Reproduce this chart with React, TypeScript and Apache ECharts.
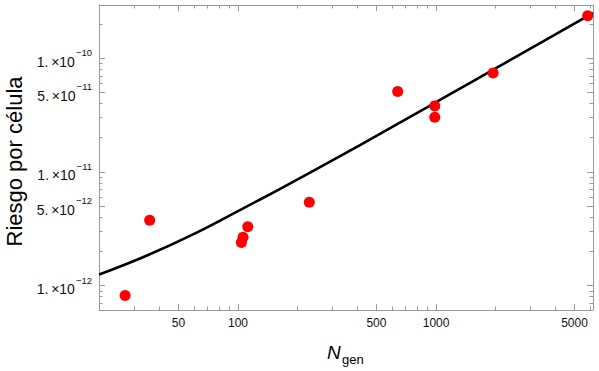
import React, { useEffect, useRef } from "react";
import * as echarts from "echarts";

// Data points (N_gen, risk per cell)
const pointN = [26.9, 35.8, 104, 106, 112, 229, 640, 985, 985, 1941, 5830];
const pointRisk = [8.2e-13, 3.76e-12, 2.39e-12, 2.66e-12, 3.3e-12, 5.4e-12, 5.1e-11, 3.81e-11, 3.03e-11, 7.43e-11, 2.37e-10];

// Fitted curve
const curveN = [19.9, 35.2, 60.7, 108.5, 153.8, 231, 413, 684, 1183, 1925, 3350, 5875, 6200];
const curveRisk = [1.25e-12, 1.86e-12, 2.88e-12, 4.88e-12, 6.72e-12, 9.85e-12, 1.72e-11, 2.82e-11, 4.85e-11, 7.85e-11, 1.36e-10, 2.37e-10, 2.5e-10];

// Axis ranges
const xRange = [19.86, 6200];
const yRange = [6.1e-13, 2.94e-10];

// Ticks
const xMajor = [50, 100, 500, 1000, 5000];
const xMajorLabels = ["50", "100", "500", "1000", "5000"];
const xMinor = [20, 30, 40, 60, 70, 80, 90, 200, 300, 400, 600, 700, 800, 900, 2000, 3000, 4000, 6000];
const yMajor = [1e-12, 5e-12, 1e-11, 5e-11, 1e-10];
const yMajorMantissa = ["1.", "5.", "1.", "5.", "1."];
const yMajorExponent = ["−12", "−12", "−11", "−11", "−10"];
const yMinor = [7e-13, 8e-13, 9e-13, 2e-12, 3e-12, 4e-12, 6e-12, 7e-12, 8e-12, 9e-12, 2e-11, 3e-11, 4e-11, 6e-11, 7e-11, 8e-11, 9e-11, 2e-10];

const L = (v: number) => Math.log10(v);
const FONT = "Liberation Sans, Arial, sans-serif";
const FRAME = "#9a9a9a";

function nearestIndex(arr: number[], v: number) {
  let best = 0;
  let d = Infinity;
  arr.forEach((a, i) => {
    const dd = Math.abs(L(a) - v);
    if (dd < d) { d = dd; best = i; }
  });
  return best;
}

export default function App() {
  const ref = useRef<HTMLDivElement>(null);
  useEffect(() => {
    if (!ref.current) return;
    const chart = echarts.init(ref.current, null, { renderer: "svg" });
    const xMin = L(xRange[0]);
    const xMax = L(xRange[1]);
    const yMin = L(yRange[0]);
    const yMax = L(yRange[1]);

    const mkX = (pos: string, ticks: number[], len: number, showLine: boolean, labels: boolean) => ({
      type: "value",
      position: pos,
      min: xMin,
      max: xMax,
      axisLine: { show: showLine, onZero: false, lineStyle: { color: FRAME, width: 1 } },
      axisTick: { show: true, inside: true, length: len, customValues: ticks.map(L), lineStyle: { color: FRAME, width: 1 } },
      axisLabel: labels
        ? {
            show: true,
            customValues: xMajor.map(L),
            margin: 7,
            color: "#111",
            fontFamily: FONT,
            fontSize: 12,
            formatter: (v: number) => xMajorLabels[nearestIndex(xMajor, v)],
          }
        : { show: false },
      splitLine: { show: false },
    });

    const mkY = (pos: string, ticks: number[], len: number, showLine: boolean, labels: boolean) => ({
      type: "value",
      position: pos,
      min: yMin,
      max: yMax,
      axisLine: { show: showLine, onZero: false, lineStyle: { color: FRAME, width: 1 } },
      axisTick: { show: true, inside: true, length: len, customValues: ticks.map(L), lineStyle: { color: FRAME, width: 1 } },
      axisLabel: labels
        ? {
            show: true,
            customValues: yMajor.map(L),
            margin: 7,
            formatter: (v: number) => {
              const i = nearestIndex(yMajor, v);
              return `{b|${yMajorMantissa[i]}\u2009×10}{s|${yMajorExponent[i]}}`;
            },
            rich: {
              b: { fontFamily: FONT, fontSize: 14, color: "#111", lineHeight: 21, verticalAlign: "bottom" },
              s: { fontFamily: FONT, fontSize: 9.5, color: "#111", lineHeight: 10, verticalAlign: "top", padding: [0, 0, 0, 1] },
            },
          }
        : { show: false },
      splitLine: { show: false },
    });

    chart.setOption({
      animation: false,
      grid: { left: 99, right: 6, top: 5, bottom: 61, containLabel: false },
      xAxis: [
        mkX("bottom", xMajor, 6, true, true),
        mkX("bottom", xMinor, 3.5, false, false),
        mkX("top", xMajor, 6, true, false),
        mkX("top", xMinor, 3.5, false, false),
      ],
      yAxis: [
        mkY("left", yMajor, 6, true, true),
        mkY("left", yMinor, 3.5, false, false),
        mkY("right", yMajor, 6, true, false),
        mkY("right", yMinor, 3.5, false, false),
      ],
      series: [
        {
          type: "line",
          xAxisIndex: 0,
          yAxisIndex: 0,
          data: curveN.map((n, i) => [L(n), L(curveRisk[i])]),
          smooth: 0.4,
          showSymbol: false,
          symbol: "none",
          lineStyle: { color: "#000", width: 2.6 },
          clip: true,
          z: 2,
        },
        {
          type: "scatter",
          xAxisIndex: 0,
          yAxisIndex: 0,
          data: pointN.map((n, i) => [L(n), L(pointRisk[i])]),
          symbol: "circle",
          symbolSize: 11,
          itemStyle: { color: "#ff0000", opacity: 1 },
          z: 3,
        },
      ],
      graphic: [
        {
          type: "text",
          x: 14,
          y: 161.5,
          rotation: Math.PI / 2,
          style: {
            text: "Riesgo por célula",
            fontFamily: FONT,
            fontSize: 22,
            fill: "#000",
            align: "center",
            verticalAlign: "middle",
          },
        },
        {
          type: "text",
          x: 327,
          y: 362,
          style: {
            text: "N",
            fontFamily: FONT,
            fontStyle: "italic",
            fontSize: 19,
            fill: "#000",
            align: "left",
            verticalAlign: "bottom",
          },
        },
        {
          type: "text",
          x: 342,
          y: 366,
          style: {
            text: "gen",
            fontFamily: FONT,
            fontSize: 13,
            fill: "#000",
            align: "left",
            verticalAlign: "bottom",
          },
        },
      ],
    });
    return () => chart.dispose();
  }, []);
  return <div ref={ref} style={{ width: 599, height: 371, position: "absolute", left: 0, top: 0 }} />;
}
